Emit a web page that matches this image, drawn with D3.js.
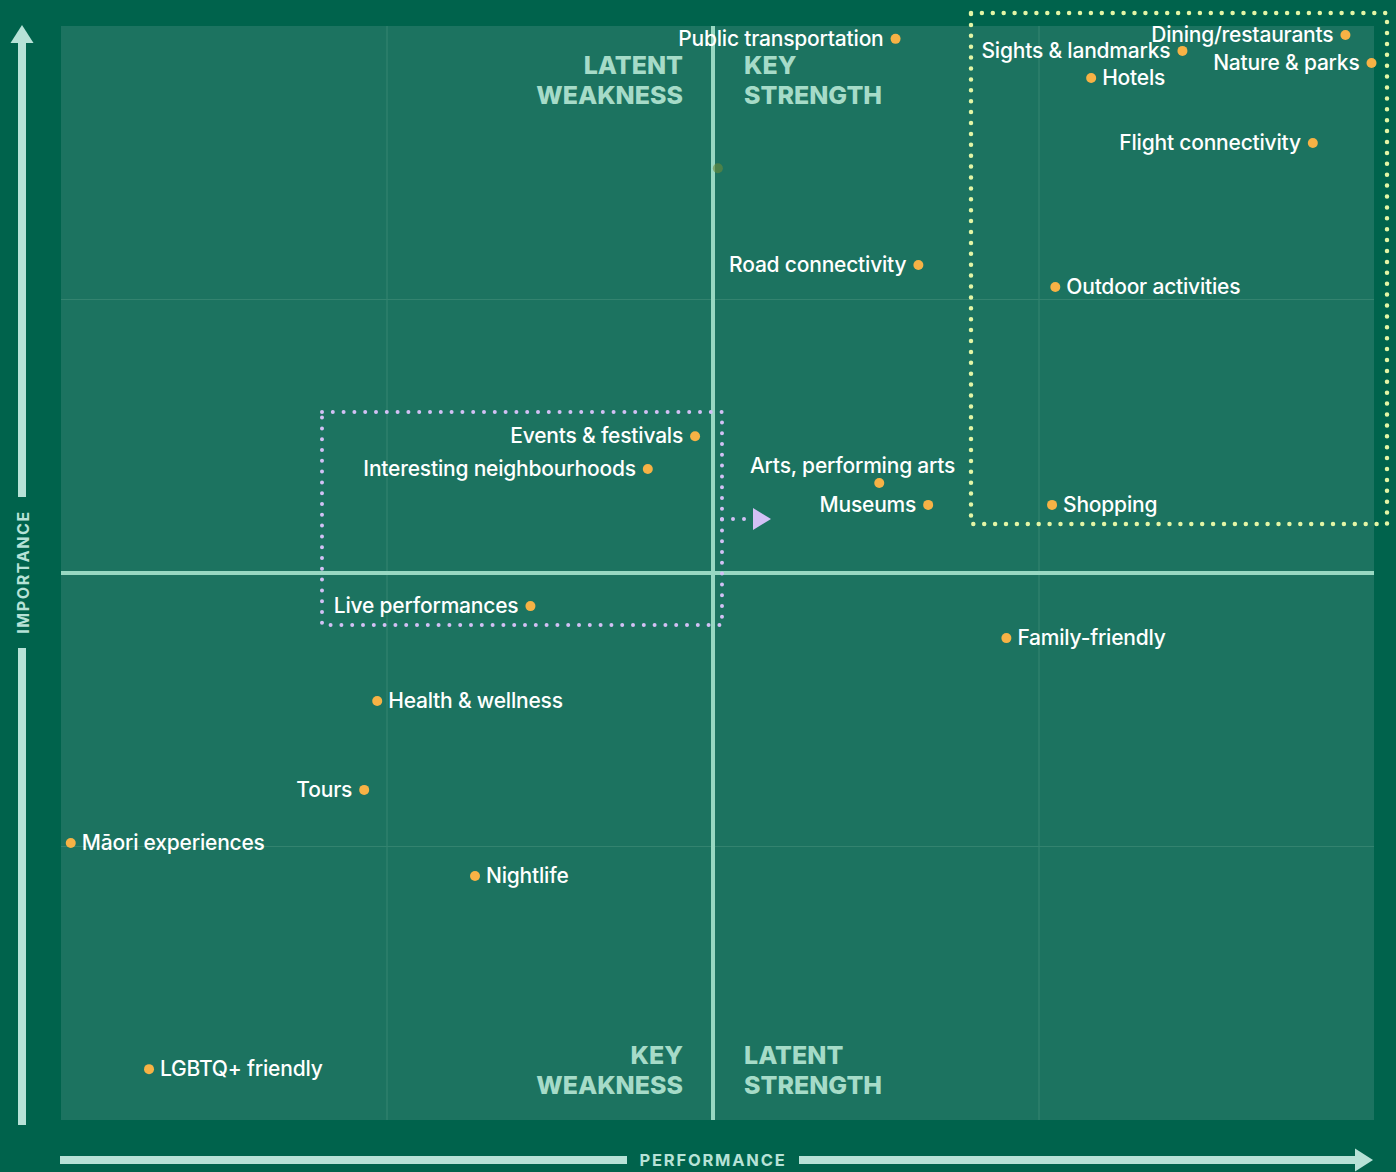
<!DOCTYPE html>
<html lang="en">
<head>
<meta charset="utf-8">
<title>Importance vs performance</title>
<script src="https://cdn.jsdelivr.net/npm/d3@7"></script>
<style>
  body { margin: 0; background: #00634c; }
  svg { display: block; }
</style>
</head>
<body>
<script>
// chart size
var w = 1396, h = 1172;

// attributes, scores on a 0-4 scale (performance, importance)
var names = ["Public transportation", "Dining/restaurants", "Sights & landmarks", "Nature & parks",
  "Hotels", "Flight connectivity", "Road connectivity", "Outdoor activities",
  "Events & festivals", "Interesting neighbourhoods", "Arts, performing arts", "Museums",
  "Shopping", "Live performances", "Family-friendly", "Health & wellness",
  "Tours", "Māori experiences", "Nightlife", "LGBTQ+ friendly"];
var performance = [2.56, 3.94, 3.44, 4.02, 3.16, 3.84, 2.63, 3.05,
  1.945, 1.80, 2.51, 2.66, 3.04, 1.44, 2.90, 0.97, 0.93, 0.03, 1.27, 0.27];
var importance = [3.953, 3.967, 3.909, 3.865, 3.81, 3.572, 3.126, 3.046,
  2.50, 2.38, 2.329, 2.249, 2.249, 1.879, 1.762, 1.532, 1.207, 1.013, 0.892, 0.186];
// where the label sits relative to the dot
var side = ["left", "left", "left", "left", "right", "left", "left", "right",
  "left", "left", "above", "left", "right", "left", "right", "right",
  "left", "right", "right", "right"];

// faint unlabelled marker
var ghost = [2.015, 3.48];

var quadrants = [
  { lines: ["LATENT", "WEAKNESS"], px: 2, py: 4, anchor: "end" },
  { lines: ["KEY", "STRENGTH"], px: 2, py: 4, anchor: "start" },
  { lines: ["KEY", "WEAKNESS"], px: 2, py: 0, anchor: "end" },
  { lines: ["LATENT", "STRENGTH"], px: 2, py: 0, anchor: "start" }
];

var x = d3.scaleLinear().domain([0, 4]).range([61, 1365]);
var y = d3.scaleLinear().domain([0, 4]).range([1120, 26]);

var svg = d3.select("body").append("svg")
  .attr("width", w).attr("height", h)
  .style("font-family", "Inter, 'Noto Sans', sans-serif");

svg.append("rect").attr("width", w).attr("height", h).attr("fill", "#00634c");

// plot panel
svg.append("rect")
  .attr("x", 61).attr("y", 26)
  .attr("width", 1374 - 61).attr("height", 1120 - 26)
  .attr("fill", "#1c7360");

// faint quarter lines
svg.selectAll(".gx").data([1, 3]).enter().append("line")
  .attr("x1", d => x(d)).attr("x2", d => x(d))
  .attr("y1", 26).attr("y2", 1120)
  .attr("stroke", "#33836f").attr("stroke-width", 1.2);
svg.selectAll(".gy").data([1, 3]).enter().append("line")
  .attr("x1", 61).attr("x2", 1374)
  .attr("y1", d => y(d)).attr("y2", d => y(d))
  .attr("stroke", "#33836f").attr("stroke-width", 1.2);

// centre lines
svg.append("line").attr("x1", x(2)).attr("x2", x(2)).attr("y1", 26).attr("y2", 1120)
  .attr("stroke", "#98d8c2").attr("stroke-width", 4);
svg.append("line").attr("x1", 61).attr("x2", 1374).attr("y1", y(2)).attr("y2", y(2))
  .attr("stroke", "#98d8c2").attr("stroke-width", 4);

// quadrant labels
quadrants.forEach(function (q) {
  var tx = q.anchor === "end" ? x(q.px) - 30 : x(q.px) + 31;
  var base = q.py === 4 ? y(q.py) + 48 : y(q.py) - 56;
  var t = svg.append("text")
    .attr("text-anchor", q.anchor)
    .attr("fill", "#a6dbc8")
    .attr("font-size", 25).attr("font-weight", 800);
  q.lines.forEach(function (l, i) {
    t.append("tspan").attr("x", tx).attr("y", base + i * 29.5).text(l);
  });
});

// axis arrows
var axisCol = "#b7e2d7";
svg.append("rect").attr("x", 18).attr("y", 40).attr("width", 8).attr("height", 457).attr("fill", axisCol);
svg.append("rect").attr("x", 18).attr("y", 648).attr("width", 8).attr("height", 477).attr("fill", axisCol);
svg.append("path").attr("d", "M22,25 L33.5,43 L10.5,43 Z").attr("fill", axisCol);
svg.append("text")
  .attr("transform", "translate(29,572) rotate(-90)")
  .attr("text-anchor", "middle")
  .attr("fill", axisCol).attr("font-size", 16).attr("font-weight", 700)
  .attr("letter-spacing", 1.6)
  .text("IMPORTANCE");

svg.append("rect").attr("x", 60).attr("y", 1156).attr("width", 567).attr("height", 8).attr("fill", axisCol);
svg.append("rect").attr("x", 799).attr("y", 1156).attr("width", 558).attr("height", 8).attr("fill", axisCol);
svg.append("path").attr("d", "M1373,1160 L1355,1148.5 L1355,1171.5 Z").attr("fill", axisCol);
svg.append("text")
  .attr("x", 713).attr("y", 1166)
  .attr("text-anchor", "middle")
  .attr("fill", axisCol).attr("font-size", 16.5).attr("font-weight", 700)
  .attr("letter-spacing", 1.8)
  .text("PERFORMANCE");

// highlight boxes
svg.append("rect")
  .attr("x", 971).attr("y", 13).attr("width", 1387 - 971).attr("height", 524 - 13)
  .attr("fill", "none").attr("stroke", "#e3f6a6").attr("stroke-width", 4.5)
  .attr("stroke-linecap", "round").attr("stroke-dasharray", "0 10.9");

svg.append("rect")
  .attr("x", 322).attr("y", 412).attr("width", 722 - 322).attr("height", 625 - 412)
  .attr("fill", "none").attr("stroke", "#d3c1f5").attr("stroke-width", 4)
  .attr("stroke-linecap", "round").attr("stroke-dasharray", "0 10.8");
svg.append("line")
  .attr("x1", 722).attr("x2", 746).attr("y1", 519).attr("y2", 519)
  .attr("stroke", "#d3c1f5").attr("stroke-width", 4)
  .attr("stroke-linecap", "round").attr("stroke-dasharray", "0 11");
svg.append("path").attr("d", "M753,508 L771,519 L753,530 Z").attr("fill", "#d3c1f5");

// points
var pts = names.map(function (n, i) {
  return { name: n, px: performance[i], py: importance[i], side: side[i] };
});

svg.append("circle")
  .attr("cx", x(ghost[0])).attr("cy", y(ghost[1])).attr("r", 5)
  .attr("fill", "#6b8a3a").attr("opacity", 0.6);

var g = svg.selectAll(".pt").data(pts).enter().append("g");
g.append("circle")
  .attr("cx", d => x(d.px)).attr("cy", d => y(d.py)).attr("r", 5)
  .attr("fill", "#f7b245");
g.append("text")
  .attr("x", function (d) {
    if (d.side === "left") return x(d.px) - 12;
    if (d.side === "right") return x(d.px) + 11;
    return x(d.px) + 76;
  })
  .attr("y", function (d) { return d.side === "above" ? y(d.py) - 10 : y(d.py) + 7; })
  .attr("text-anchor", d => d.side === "right" ? "start" : "end")
  .attr("fill", "#ffffff").attr("font-size", 21).attr("font-weight", 500)
  .attr("letter-spacing", -0.2)
  .text(d => d.name);
</script>
</body>
</html>
